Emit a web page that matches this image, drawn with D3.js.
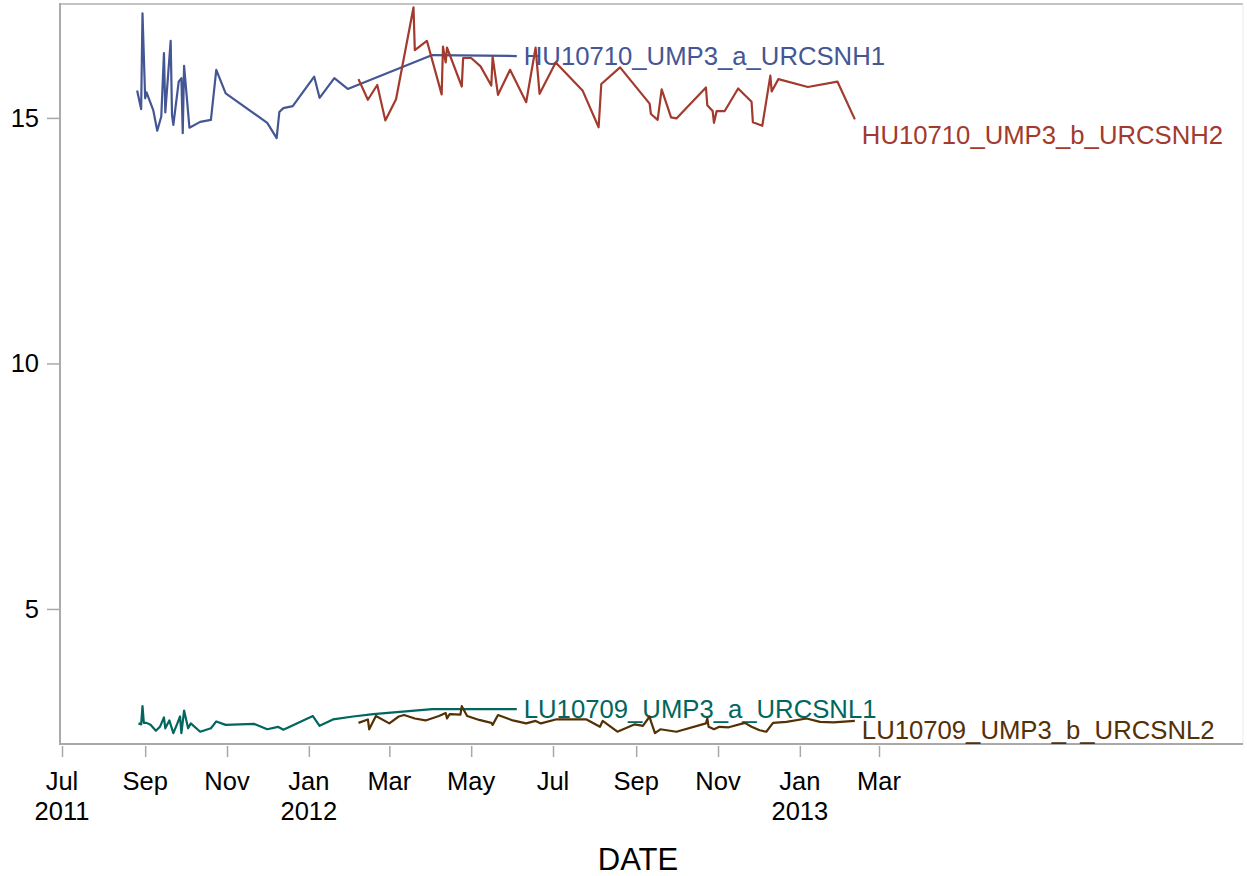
<!DOCTYPE html>
<html>
<head>
<meta charset="utf-8">
<script src="https://cdn.jsdelivr.net/npm/d3@7"></script>
<style>
  body { margin: 0; background: #fff; }
  text { font-family: "Liberation Sans", Arial, sans-serif; }
</style>
</head>
<body>
<svg id="chart" width="1247" height="876"></svg>
<script>
// series: HU10710_UMP3_a_URCSNH1
var h1Dates = ["2011-08-26","2011-08-29","2011-08-30","2011-09-01","2011-09-02","2011-09-07","2011-09-10","2011-09-13","2011-09-15","2011-09-16","2011-09-20","2011-09-21","2011-09-22","2011-09-26","2011-09-28","2011-09-29","2011-09-30","2011-10-04","2011-10-12","2011-10-20","2011-10-24","2011-10-31","2011-12-01","2011-12-08","2011-12-10","2011-12-13","2011-12-20","2012-01-05","2012-01-09","2012-01-20","2012-01-30","2012-04-02","2012-06-04"];
var h1Values = [15.56,15.18,17.13,15.40,15.52,15.16,14.74,15.03,16.32,15.11,16.57,15.06,14.86,15.74,15.81,14.69,16.06,14.80,14.92,14.96,15.98,15.50,14.90,14.59,15.12,15.20,15.24,15.84,15.41,15.81,15.59,16.28,16.26];

// series: HU10710_UMP3_b_URCSNH2
var h2Dates = ["2012-02-07","2012-02-14","2012-02-21","2012-02-27","2012-03-06","2012-03-19","2012-03-20","2012-03-29","2012-04-09","2012-04-10","2012-04-12","2012-04-13","2012-04-24","2012-04-25","2012-05-01","2012-05-08","2012-05-16","2012-05-17","2012-05-21","2012-05-30","2012-06-11","2012-06-18","2012-06-21","2012-07-03","2012-07-23","2012-08-04","2012-08-06","2012-08-20","2012-09-11","2012-09-12","2012-09-17","2012-09-20","2012-09-27","2012-10-01","2012-10-23","2012-10-24","2012-10-28","2012-10-29","2012-10-31","2012-11-06","2012-11-16","2012-11-26","2012-11-27","2012-12-04","2012-12-10","2012-12-11","2012-12-16","2013-01-07","2013-01-29","2013-02-11"];
var h2Values = [15.79,15.37,15.67,14.95,15.38,17.25,16.38,16.57,15.48,16.45,16.13,16.43,15.64,16.22,16.22,16.05,15.66,16.25,15.47,15.98,15.32,16.43,15.49,16.13,15.56,14.81,15.69,16.03,15.29,15.08,14.96,15.58,15.01,14.99,15.62,15.26,15.14,14.90,15.14,15.14,15.60,15.33,14.91,14.84,15.86,15.54,15.79,15.63,15.74,14.97];

// series: LU10709_UMP3_a_URCSNL1
var l1Dates = ["2011-08-27","2011-08-29","2011-08-30","2011-08-31","2011-09-02","2011-09-05","2011-09-09","2011-09-12","2011-09-15","2011-09-16","2011-09-19","2011-09-22","2011-09-25","2011-09-27","2011-09-28","2011-09-30","2011-10-03","2011-10-05","2011-10-12","2011-10-20","2011-10-24","2011-10-31","2011-11-21","2011-12-01","2011-12-09","2011-12-13","2012-01-04","2012-01-09","2012-01-19","2012-02-03","2012-02-18","2012-04-02","2012-06-04"];
var l1Values = [2.67,2.65,3.02,2.68,2.68,2.64,2.52,2.60,2.79,2.57,2.73,2.47,2.67,2.81,2.47,2.93,2.57,2.67,2.50,2.57,2.71,2.64,2.66,2.55,2.60,2.54,2.82,2.62,2.75,2.81,2.86,2.96,2.96];

// series: LU10709_UMP3_b_URCSNL2
var l2Dates = ["2012-02-07","2012-02-14","2012-02-15","2012-02-20","2012-03-01","2012-03-08","2012-03-12","2012-03-20","2012-03-28","2012-04-07","2012-04-12","2012-04-13","2012-04-15","2012-04-23","2012-04-24","2012-04-28","2012-05-07","2012-05-16","2012-05-17","2012-05-21","2012-06-01","2012-06-11","2012-06-18","2012-06-22","2012-07-03","2012-07-26","2012-08-05","2012-08-07","2012-08-18","2012-08-31","2012-09-06","2012-09-11","2012-09-12","2012-09-15","2012-09-19","2012-10-01","2012-10-23","2012-10-24","2012-10-25","2012-10-29","2012-11-02","2012-11-09","2012-11-21","2012-11-26","2012-12-02","2012-12-07","2012-12-12","2012-12-22","2013-01-06","2013-01-16","2013-01-26","2013-02-11"];
var l2Values = [2.68,2.75,2.55,2.82,2.67,2.81,2.84,2.77,2.73,2.82,2.88,2.77,2.86,2.85,3.02,2.82,2.74,2.68,2.64,2.84,2.73,2.67,2.72,2.67,2.75,2.75,2.60,2.72,2.50,2.65,2.62,2.81,2.71,2.47,2.55,2.50,2.67,2.77,2.60,2.55,2.60,2.59,2.68,2.60,2.53,2.50,2.68,2.70,2.77,2.70,2.69,2.72];

var seriesNames = ["HU10710_UMP3_a_URCSNH1", "HU10710_UMP3_b_URCSNH2", "LU10709_UMP3_a_URCSNL1", "LU10709_UMP3_b_URCSNL2"];
var seriesColors = ["#445694", "#A23A2E", "#01665E", "#543005"];

var xTickDates = ["2011-07-01","2011-09-01","2011-11-01","2012-01-01","2012-03-01","2012-05-01","2012-07-01","2012-09-01","2012-11-01","2013-01-01","2013-03-01"];
var xTickMonths = ["Jul","Sep","Nov","Jan","Mar","May","Jul","Sep","Nov","Jan","Mar"];
var xTickYears = ["2011","","","2012","","","","","","2013",""];
var yTicks = [5, 10, 15];

var parse = d3.utcParse("%Y-%m-%d");

var svg = d3.select("#chart");
var plotLeft = 60, plotRight = 1243, plotTop = 4, plotBottom = 744;

var x = d3.scaleUtc()
  .domain([parse("2011-07-01"), parse("2013-03-01")])
  .range([62, 879]);
var y = d3.scaleLinear().domain([2.25, 17.32]).range([plotBottom, plotTop]);

// frame
svg.append("line").attr("x1", plotLeft).attr("x2", plotRight).attr("y1", plotTop).attr("y2", plotTop)
  .attr("stroke", "#c4c4c4").attr("stroke-width", 2);
svg.append("line").attr("x1", plotRight).attr("x2", plotRight).attr("y1", plotTop).attr("y2", plotBottom)
  .attr("stroke", "#ececec").attr("stroke-width", 1);

// y axis
var yAxis = svg.append("g")
  .attr("transform", "translate(" + plotLeft + ",0)")
  .call(d3.axisLeft(y).tickValues(yTicks).tickSize(13).tickPadding(8).tickFormat(d3.format("d")));
yAxis.select(".domain").remove();
yAxis.selectAll(".tick line").attr("stroke", "#a8a8a8").attr("stroke-width", 1.5);
yAxis.selectAll(".tick text").attr("font-size", 25.5).attr("fill", "#000")
  .attr("font-family", "Liberation Sans, Arial, sans-serif");
svg.append("line").attr("x1", plotLeft).attr("x2", plotLeft).attr("y1", plotTop - 1).attr("y2", plotBottom + 1)
  .attr("stroke", "#aaa").attr("stroke-width", 2);

// x axis
var tickDates = xTickDates.map(parse);
var xAxis = svg.append("g")
  .attr("transform", "translate(0," + (plotBottom + 2) + ")")
  .call(d3.axisBottom(x).tickValues(tickDates).tickSize(11).tickFormat(""));
xAxis.select(".domain").remove();
xAxis.selectAll(".tick line").attr("stroke", "#a8a8a8").attr("stroke-width", 1.5);
svg.append("line").attr("x1", plotLeft - 1).attr("x2", plotRight).attr("y1", plotBottom).attr("y2", plotBottom)
  .attr("stroke", "#aaa").attr("stroke-width", 2);

var xLabels = svg.append("g").selectAll("g").data(tickDates).enter().append("g");
xLabels.append("text")
  .attr("x", function(d) { return x(d); })
  .attr("y", 790)
  .attr("text-anchor", "middle")
  .attr("font-size", 25.5)
  .text(function(d, i) { return xTickMonths[i]; });
xLabels.append("text")
  .attr("x", function(d) { return x(d); })
  .attr("y", 820)
  .attr("text-anchor", "middle")
  .attr("font-size", 25.5)
  .text(function(d, i) { return xTickYears[i]; });

svg.append("text")
  .attr("x", 638).attr("y", 870)
  .attr("text-anchor", "middle")
  .attr("font-size", 31)
  .text("DATE");

// series
var allDates = [h1Dates, h2Dates, l1Dates, l2Dates];
var allValues = [h1Values, h2Values, l1Values, l2Values];
var labelShift = [0, 16, 0, 9];

var line = d3.line()
  .x(function(d) { return x(d.date); })
  .y(function(d) { return y(d.value); });

allDates.forEach(function(dates, s) {
  var pts = dates.map(function(d, i) { return {date: parse(d), value: allValues[s][i]}; });
  svg.append("path")
    .datum(pts)
    .attr("fill", "none")
    .attr("stroke", seriesColors[s])
    .attr("stroke-width", 2.2)
    .attr("stroke-linejoin", "round")
    .attr("d", line);
  var last = pts[pts.length - 1];
  svg.append("text")
    .attr("x", x(last.date) + 7)
    .attr("y", y(last.value) + labelShift[s])
    .attr("dy", "0.35em")
    .attr("font-size", 25.7)
    .attr("fill", seriesColors[s])
    .text(seriesNames[s]);
});
</script>
</body>
</html>
